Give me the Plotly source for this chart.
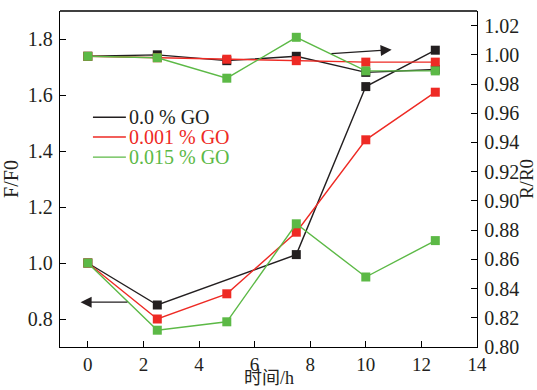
import plotly.graph_objects as go

# ---------------- data ----------------
time_all = [0, 2.5, 5, 7.5, 10, 12.5]
time_black_ff = [0, 2.5, 7.5, 10, 12.5]

# F/F0 (left axis)
ff_black = [1.0, 0.85, 1.03, 1.63, 1.76]
ff_red = [1.0, 0.80, 0.89, 1.11, 1.44, 1.61]
ff_green = [1.0, 0.76, 0.79, 1.14, 0.95, 1.08]

# R/R0 (right axis)
rr_black = [0.999, 1.000, 0.996, 0.999, 0.988, 0.990]
rr_red = [0.999, 0.998, 0.997, 0.996, 0.995, 0.995]
rr_green = [0.999, 0.998, 0.984, 1.012, 0.989, 0.989]

series_names = ["0.0 % GO", "0.001 % GO", "0.015 % GO"]
colors = ["#231f20", "#ee2a24", "#5cb946"]

x_ticks = [0, 2, 4, 6, 8, 10, 12, 14]
left_ticks = [0.8, 1.0, 1.2, 1.4, 1.6, 1.8]
right_ticks = [0.80, 0.82, 0.84, 0.86, 0.88, 0.90, 0.92, 0.94, 0.96, 0.98, 1.00, 1.02]
x_title = "时间/h"

FONT = "Liberation Serif"
FONT_CJK = "Liberation Serif, Noto Sans CJK SC"

fig = go.Figure()

ff_sets = [(time_black_ff, ff_black), (time_all, ff_red), (time_all, ff_green)]
rr_sets = [(time_all, rr_black), (time_all, rr_red), (time_all, rr_green)]

for (xs, ys), c in zip(ff_sets, colors):
    fig.add_trace(go.Scatter(x=xs, y=ys, mode="lines+markers", yaxis="y",
                             line=dict(color=c, width=1.4),
                             marker=dict(symbol="square", size=9, color=c),
                             showlegend=False))
for (xs, ys), c in zip(rr_sets, colors):
    fig.add_trace(go.Scatter(x=xs, y=ys, mode="lines+markers", yaxis="y2",
                             line=dict(color=c, width=1.4),
                             marker=dict(symbol="square", size=9, color=c),
                             showlegend=False))

axis_common = dict(showline=True, linecolor="black", linewidth=1.3,
                   ticks="inside", ticklen=6, tickwidth=1.2, tickcolor="black",
                   showgrid=False, zeroline=False, automargin=False)

fig.update_layout(
    width=537, height=390,
    margin=dict(l=60, r=60, t=11, b=43),
    paper_bgcolor="white", plot_bgcolor="white",
    font=dict(family=FONT, size=20, color="#231f20"),
    xaxis=dict(range=[-1, 14], tickvals=x_ticks,
               tickfont=dict(family=FONT, size=19, color="#231f20"),
               **axis_common),
    yaxis=dict(range=[0.7, 1.9], tickvals=left_ticks, tickformat=".1f",
               tickfont=dict(family=FONT, size=20, color="#231f20"),
               title=dict(text="F/F0", standoff=6, font=dict(family=FONT, size=20)),
               ticklabelstandoff=2,
               **axis_common),
    yaxis2=dict(range=[0.8, 1.03], tickvals=right_ticks, tickformat=".2f",
                overlaying="y", side="right",
                tickfont=dict(family=FONT, size=20, color="#231f20"),
                title=dict(text="R/R0", standoff=0, font=dict(family=FONT, size=19)),
                ticklabelstandoff=2,
                **axis_common),
)

# x-axis title placed below the tick labels
fig.add_annotation(x=0.5, y=-0.093, xref="paper", yref="paper", text=x_title,
                   showarrow=False, xanchor="center", yanchor="middle",
                   font=dict(family=FONT_CJK, size=18, color="#231f20"))

# top border of the frame
fig.add_shape(type="line", xref="paper", yref="paper", x0=0, x1=1, y0=1, y1=1,
              line=dict(color="black", width=1.3))

# direction arrows
arrow_left = dict(x=-0.26, y=0.86, ax=1.48, ay=0.86)
arrow_right = dict(x=10.93, y=1.0035, ax=8.71, ay=1.0007)
fig.add_annotation(x=arrow_left["x"], y=arrow_left["y"], ax=arrow_left["ax"], ay=arrow_left["ay"],
                   xref="x", yref="y", axref="x", ayref="y", text="", showarrow=True,
                   arrowhead=2, arrowsize=1.7, arrowwidth=1.3, arrowcolor="#231f20")
fig.add_annotation(x=arrow_right["x"], y=arrow_right["y"], ax=arrow_right["ax"], ay=arrow_right["ay"],
                   xref="x", yref="y2", axref="x", ayref="y2", text="", showarrow=True,
                   arrowhead=2, arrowsize=1.7, arrowwidth=1.3, arrowcolor="#231f20")

# legend drawn as lines + text
leg_x0, leg_x1 = 0.079, 0.158
leg_y = [0.684, 0.625, 0.565]
for name, c, yy in zip(series_names, colors, leg_y):
    fig.add_shape(type="line", xref="paper", yref="paper", x0=leg_x0, x1=leg_x1,
                  y0=yy, y1=yy, line=dict(color=c, width=1.4))
    fig.add_annotation(x=leg_x1 + 0.002, y=yy, xref="paper", yref="paper",
                       text=name, showarrow=False, xanchor="left", yanchor="middle",
                       font=dict(family=FONT, size=20, color=c))

fig.write_html("out.html",
               config={"displayModeBar": False},
               post_script="document.body.style.margin='0';document.body.style.overflow='hidden';")
